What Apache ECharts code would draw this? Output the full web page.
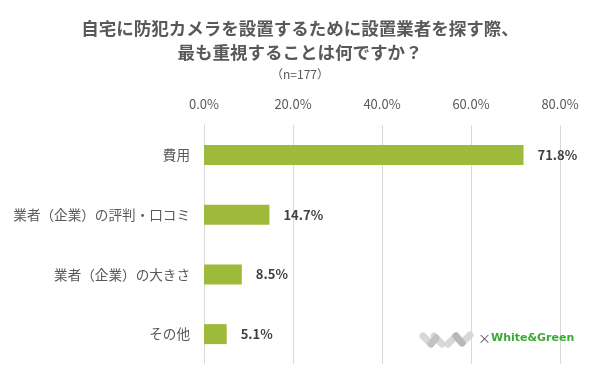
<!DOCTYPE html>
<html><head><meta charset="utf-8">
<script src="https://cdn.jsdelivr.net/npm/echarts@6/dist/echarts.min.js"></script>
<style>html,body{margin:0;padding:0;background:#fff}#c{width:600px;height:385px}</style>
</head><body><div id="c"></div>
<script>
const categories = ['費用', '業者（企業）の評判・口コミ', '業者（企業）の大きさ', 'その他'];
const values = [71.8, 14.7, 8.5, 5.1];
const tickLabels = ['0.0%', '20.0%', '40.0%', '60.0%', '80.0%'];

const chart = echarts.init(document.getElementById('c'));
const font = '"Noto Sans CJK JP", "Noto Sans", sans-serif';
function stroke(x1, y1, x2, y2, c) {
  return { type: 'line', shape: { x1, y1, x2, y2 }, style: { stroke: c, lineWidth: 7, lineCap: 'round' }, z: 10 };
}
chart.setOption({
  animation: false,
  backgroundColor: '#fff',
  title: [{
    text: '自宅に防犯カメラを設置するために設置業者を探す際、\n最も重視することは何ですか？',
    left: 'center', top: 11,
    textStyle: { fontFamily: font, fontSize: 17.5, fontWeight: 'bold', color: '#595959', lineHeight: 24 }
  }, {
    text: '（n=177）',
    left: 'center', top: 63,
    textStyle: { fontFamily: font, fontSize: 12, fontWeight: 'normal', color: '#595959' }
  }],
  grid: { left: 204, top: 125, width: 356, height: 239, containLabel: false },
  xAxis: {
    type: 'value', position: 'top', min: 0, max: 80, interval: 20,
    axisLine: { show: false }, axisTick: { show: false },
    splitLine: { lineStyle: { color: '#d9d9d9', width: 1 } },
    axisLabel: {
      margin: 14, color: '#595959', fontSize: 13, fontFamily: font,
      formatter: v => tickLabels[Math.round(v / 20)]
    }
  },
  yAxis: {
    type: 'category', inverse: true, data: categories,
    axisLine: { show: true, lineStyle: { color: '#d9d9d9' } }, axisTick: { show: false },
    axisLabel: { margin: 14, color: '#595959', fontSize: 13.6, fontFamily: font }
  },
  series: [{
    type: 'bar', data: values, barWidth: 20,
    itemStyle: { color: '#9eba3a' },
    label: {
      show: true, position: 'right', distance: 14,
      formatter: p => p.value.toFixed(1) + '%',
      color: '#404040', fontWeight: 'bold', fontSize: 13, fontFamily: font
    }
  }],
  graphic: [
    stroke(423, 336, 431, 344, '#d8d8d8'),
    stroke(434, 336, 442, 344, '#d8d8d8'),
    stroke(431, 344, 436, 338, '#c2c2c2'),
    stroke(448, 344, 456, 336, '#d8d8d8'),
    stroke(462, 343, 470, 335, '#d8d8d8'),
    stroke(456, 336, 462, 343, '#b8b8b8'),
    { type: 'text', left: 478, top: 332, z: 10, style: { text: '×', fill: '#555', font: '13px ' + font } },
    { type: 'text', left: 491, top: 333, z: 10, style: { text: 'White&Green', fill: '#3aaa35', font: 'bold 11px "DejaVu Sans", sans-serif' } }
  ]
});
</script></body></html>
